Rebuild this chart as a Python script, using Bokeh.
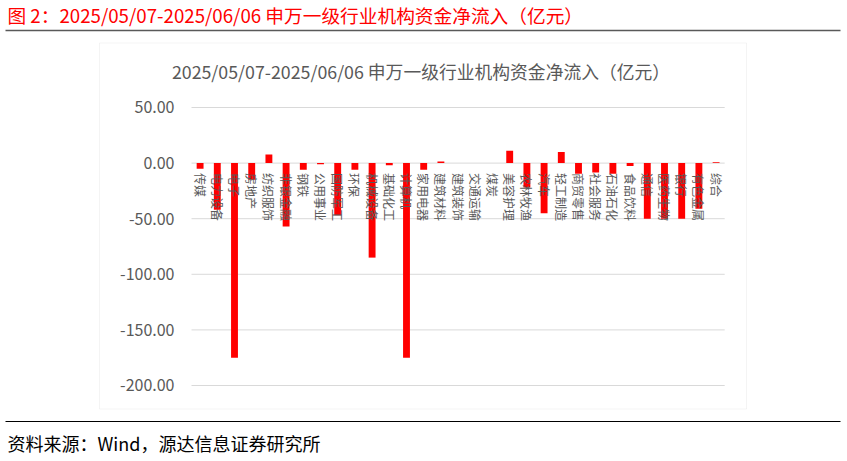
import math
from bokeh.plotting import figure
from bokeh.models import (Range1d, Label, BoxAnnotation, FixedTicker,
                          NumeralTickFormatter, ColumnDataSource)
from bokeh.embed import file_html
from bokeh.resources import INLINE

header_title = "图 2：2025/05/07-2025/06/06 申万一级行业机构资金净流入（亿元）"
chart_title = "2025/05/07-2025/06/06 申万一级行业机构资金净流入（亿元）"
source_note = "资料来源：Wind，源达信息证券研究所"

categories = ["传媒", "电力设备", "电子", "房地产", "纺织服饰", "非银金融", "钢铁",
              "公用事业", "国防军工", "环保", "机械设备", "基础化工", "计算机",
              "家用电器", "建筑材料", "建筑装饰", "交通运输", "煤炭", "美容护理",
              "农林牧渔", "汽车", "轻工制造", "商贸零售", "社会服务", "石油石化",
              "食品饮料", "通信", "医药生物", "银行", "有色金属", "综合"]
net_inflow = [-5, -42, -175, -15, 7.8, -57, -6,
              -1, -47, -6, -85, -2, -175,
              -6, 1.5, 0, 0, 0, 11,
              -22, -45, 10, -9.5, -8.5, -9.5,
              -2.5, -50, -50, -50, -41, 0.8]
y_ticks = [50, 0, -50, -100, -150, -200]

FONT = "Noto Sans CJK SC"
GRAY = "#595959"
W, H = 847, 461

n = len(categories)
pos = list(range(n))

# frame covers the whole canvas; ranges chosen so the plot area sits inside the box
p = figure(width=W, height=H, output_backend="svg", toolbar_location=None,
           x_range=Range1d(-11.605, 37.64), y_range=Range1d(-268.35, 146.22),
           min_border=0, min_border_left=0, min_border_right=0,
           min_border_top=0, min_border_bottom=0)
p.outline_line_color = None
p.background_fill_color = "white"
p.border_fill_color = "white"
p.xgrid.visible = False
p.ygrid.visible = False

# y axis placed at the left edge of the category band
yax = p.yaxis[0]
yax.fixed_location = -0.5
yax.ticker = FixedTicker(ticks=y_ticks)
yax.formatter = NumeralTickFormatter(format="0.00")
yax.axis_line_color = None
yax.major_tick_line_color = None
yax.minor_tick_line_color = None
yax.major_label_standoff = 11
yax.major_label_text_font = FONT
yax.major_label_text_font_size = "16px"
yax.major_label_text_color = GRAY

# category axis on the zero line, labels rotated
xax = p.xaxis[0]
xax.fixed_location = 0
xax.ticker = FixedTicker(ticks=pos)
xax.major_label_overrides = {i: c for i, c in zip(pos, categories)}
xax.major_label_orientation = "vertical"
xax.axis_line_color = None
xax.major_tick_line_color = None
xax.minor_tick_line_color = None
xax.major_label_standoff = 4
xax.major_label_text_font = FONT
xax.major_label_text_font_size = "12px"
xax.major_label_text_color = GRAY

# horizontal gridlines across the category band
p.segment(x0=[-0.5] * len(y_ticks), x1=[n - 0.5] * len(y_ticks),
          y0=y_ticks, y1=y_ticks, line_color="#d9d9d9", line_width=1,
          level="underlay")

src = ColumnDataSource(dict(x=pos, val=net_inflow))
p.vbar(x="x", top="val", bottom=0, width=0.4, source=src,
       fill_color="#FF0000", line_color=None)

def sbox(left, right, top, bottom, **kw):
    return BoxAnnotation(left=left, right=right, top=H - top, bottom=H - bottom,
                         left_units="screen", right_units="screen",
                         top_units="screen", bottom_units="screen", **kw)

# chart box
p.add_layout(sbox(99, 746, 42.5, 408.5, fill_alpha=0, line_color="#d9d9d9",
                  line_width=1, level="underlay"))
# header rule
p.add_layout(sbox(5, 840, 29.3, 30.7, fill_color="#595959", fill_alpha=1,
                  line_color=None))
# footer rule
p.add_layout(sbox(5, 840, 420.5, 421.5, fill_color="black", fill_alpha=1,
                  line_color=None))

p.add_layout(Label(x=7, y=H - 14, x_units="screen", y_units="screen",
                   text=header_title, text_font=FONT, text_font_size="18.7px",
                   text_color="#FF0000", text_baseline="middle", text_align="left"))
p.add_layout(Label(x=420.5, y=H - 70, x_units="screen", y_units="screen",
                   text=chart_title, text_font=FONT, text_font_size="17.8px",
                   text_color=GRAY, text_baseline="middle", text_align="center"))
p.add_layout(Label(x=7, y=H - 442, x_units="screen", y_units="screen",
                   text=source_note, text_font=FONT, text_font_size="18px",
                   text_color="black", text_baseline="middle", text_align="left"))

open("out.html", "w").write(file_html(p, INLINE))
